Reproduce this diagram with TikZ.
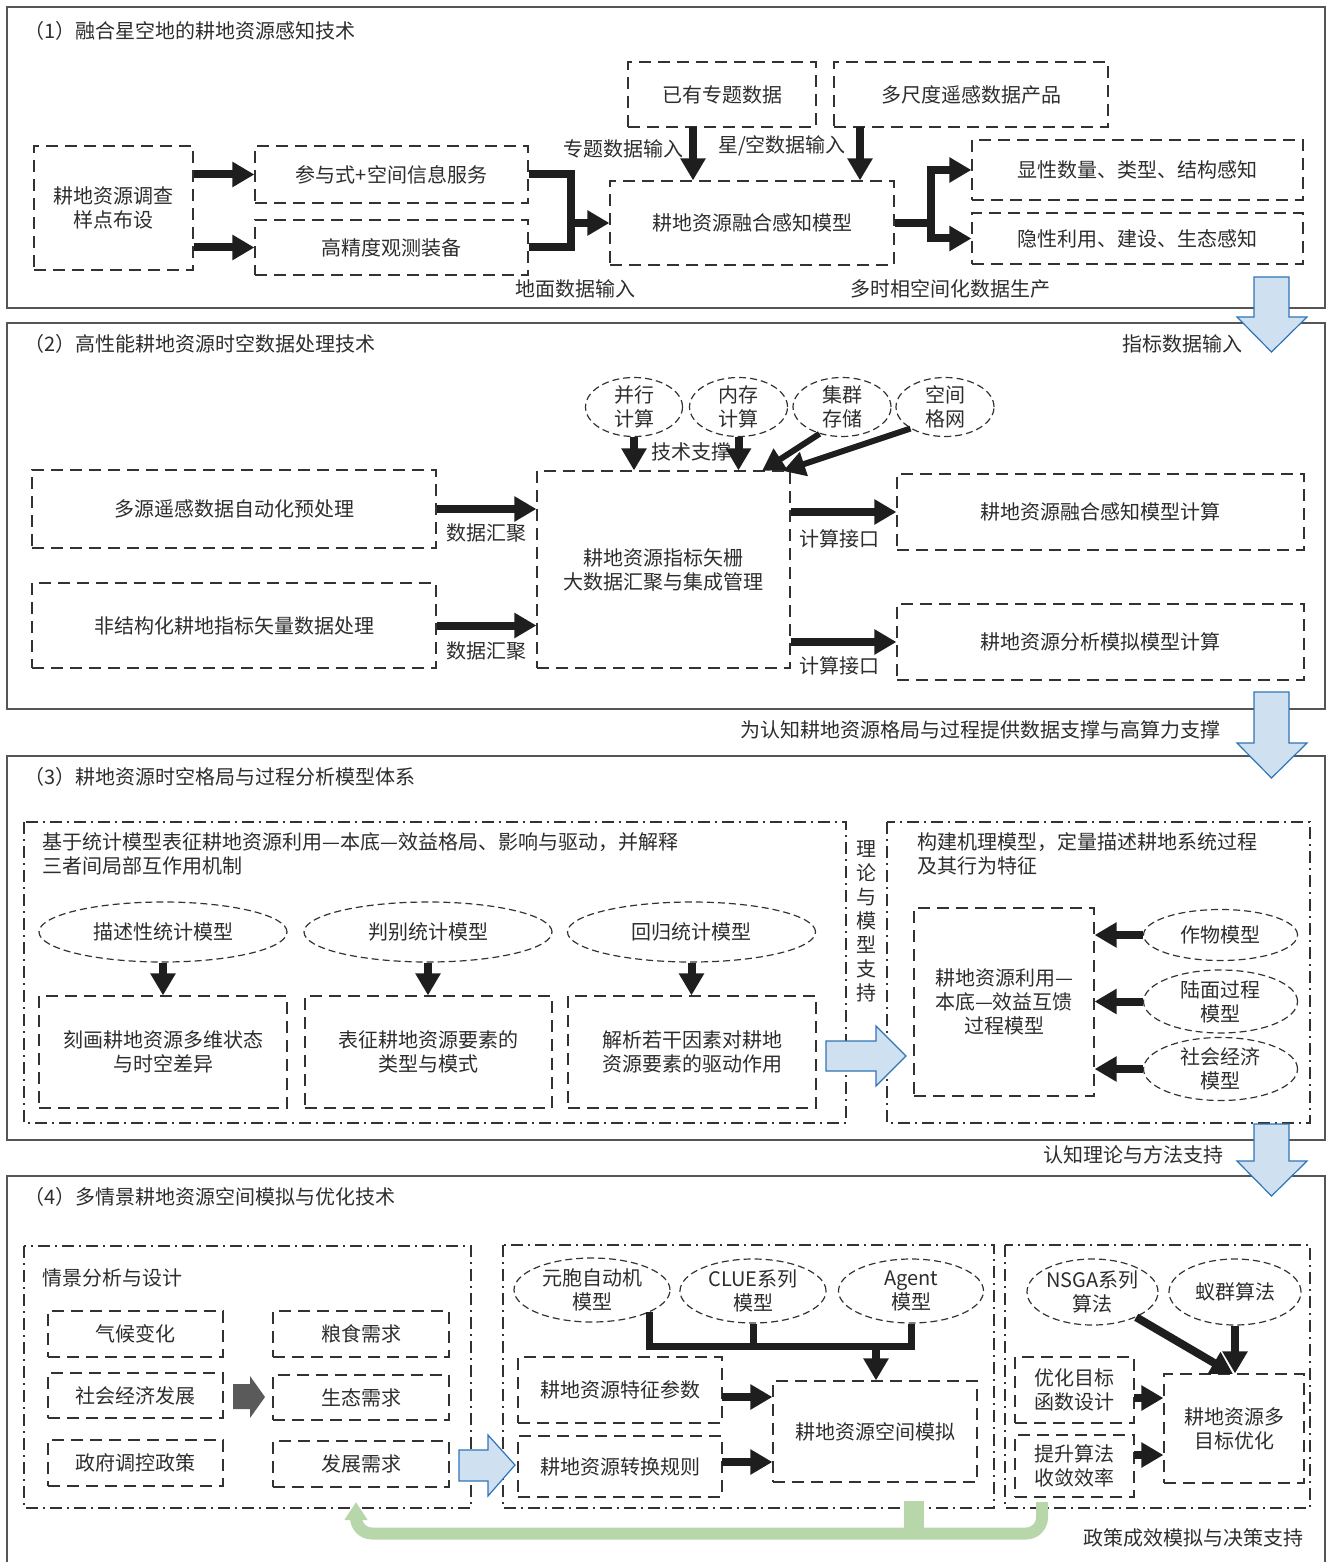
\documentclass[tikz,border=0pt]{standalone}
\usepackage{fontspec}
\setmainfont{Noto Sans CJK SC}
\usetikzlibrary{arrows.meta, shapes.geometric}
\definecolor{ink}{RGB}{30,30,30}
\definecolor{txt}{RGB}{45,45,45}
\definecolor{linegray}{RGB}{50,50,50}
\definecolor{framegray}{RGB}{85,85,85}
\definecolor{paleblue}{RGB}{207,224,240}
\definecolor{edgeblue}{RGB}{46,117,182}
\definecolor{fbgreen}{RGB}{183,214,170}
\definecolor{darkarrow}{RGB}{90,90,90}

\begin{document}
\begin{tikzpicture}[x=0.5pt, y=-0.5pt, font=\fontsize{10}{12}\selectfont,
    every node/.append style={text=txt},
    txtlabel/.style={inner sep=0pt},
    box/.style={draw=linegray, line width=0.6pt, dash pattern=on 6pt off 3.5pt, align=center, inner sep=0pt},
    oval/.style={ellipse, draw=linegray, line width=0.6pt, dash pattern=on 3.5pt off 2pt, align=center, inner sep=-1pt},
    grpbox/.style={draw=linegray, line width=0.6pt, dash pattern=on 6pt off 2.5pt on 1pt off 2.5pt},
    secframe/.style={draw=framegray, line width=0.7pt},
    fatarrow/.style={ink, line width=4pt, -{Triangle[length=11pt,width=12pt]}},
    fatline/.style={ink, line width=4pt},
    blockarrow/.style={fill=paleblue, draw=edgeblue, line width=0.6pt}]
    \useasboundingbox (0,0) rectangle (1330,1562);

    % Bloco (1)
    \draw[secframe] (7,7) rectangle (1325,308);
    \node[txtlabel, anchor=west] (t1) at (24,31) {（1）融合星空地的耕地资源感知技术};
    \node[box, minimum width=79.5pt, minimum height=62pt] (survey) at (113.5,208) {耕地资源调查\\样点布设};
    \node[box, minimum width=136.5pt, minimum height=28.5pt] (svc) at (391.5,174.5) {参与式+空间信息服务};
    \node[box, minimum width=136.5pt, minimum height=27.5pt] (obs) at (391.5,247.5) {高精度观测装备};
    \node[box, minimum width=94pt, minimum height=32.5pt] (thema) at (722,94.5) {已有专题数据};
    \node[box, minimum width=137pt, minimum height=32.5pt] (rsprod) at (971,94.5) {多尺度遥感数据产品};
    \node[box, minimum width=142pt, minimum height=42pt] (fuse) at (752,223) {耕地资源融合感知模型};
    \node[box, minimum width=165.5pt, minimum height=30pt] (vis) at (1137.5,170) {显性数量、类型、结构感知};
    \node[box, minimum width=165.5pt, minimum height=25.5pt] (hid) at (1137.5,238.5) {隐性利用、建设、生态感知};
    \node[txtlabel] (l1) at (623,149) {专题数据输入};
    \node[txtlabel] (l2) at (782,146) {星/空数据输入};
    \node[txtlabel] (l3) at (575,289) {地面数据输入};
    \node[txtlabel] (l4) at (950,289) {多时相空间化数据生产};

    % Setas do bloco (1)
    \coordinate (m1) at (571,223);
    \coordinate (m2) at (931,223);
    \coordinate (d1) at (693,127);
    \coordinate (d2) at (860,127);
    \draw[fatarrow] (survey.east |- svc.west) -- (svc.west);
    \draw[fatarrow] (survey.east |- obs.west) -- (obs.west);
    \draw[fatline] (svc.east) -| (m1) |- (obs.east);
    \draw[fatarrow] (m1) -- (fuse.west);
    \draw[fatarrow] (d1) -- (d1 |- fuse.north);
    \draw[fatarrow] (d2) -- (d2 |- fuse.north);
    \draw[fatline] (fuse.east) -- (m2);
    \draw[fatarrow] (m2) |- (vis.west);
    \draw[fatarrow] (m2) |- (hid.west);

    % Bloco (2)
    \draw[secframe] (7,323) rectangle (1325,709);
    \node[txtlabel, anchor=west] (t2) at (24,344) {（2）高性能耕地资源时空数据处理技术};
    \node[txtlabel] (l5) at (1182,344) {指标数据输入};
    \node[box, minimum width=202pt, minimum height=39pt] (rs) at (234,509) {多源遥感数据自动化预处理};
    \node[box, minimum width=202pt, minimum height=42.5pt] (vec) at (234,625.5) {非结构化耕地指标矢量数据处理};
    \node[box, minimum width=126.5pt, minimum height=98.5pt] (hub) at (663.5,569.5) {耕地资源指标矢栅\\大数据汇聚与集成管理};
    \node[oval, minimum width=48.5pt, minimum height=29.5pt] (e1) at (634,407) {并行\\计算};
    \node[oval, minimum width=49pt, minimum height=29.5pt] (e2) at (738.5,407) {内存\\计算};
    \node[oval, minimum width=49pt, minimum height=29.5pt] (e3) at (842,407) {集群\\存储};
    \node[oval, minimum width=49pt, minimum height=29.5pt] (e4) at (945,407) {空间\\格网};
    \node[box, minimum width=203.5pt, minimum height=38pt] (fc) at (1100.5,512) {耕地资源融合感知模型计算};
    \node[box, minimum width=203.5pt, minimum height=38pt] (an) at (1100.5,642) {耕地资源分析模拟模型计算};
    \node[txtlabel] (l6) at (486,533) {数据汇聚};
    \node[txtlabel] (l7) at (486,651) {数据汇聚};
    \node[txtlabel] (l8) at (839,539) {计算接口};
    \node[txtlabel] (l9) at (839,666) {计算接口};
    \node[txtlabel] (l10) at (691,452) {技术支撑};
    \node[txtlabel] (l11) at (980,730) {为认知耕地资源格局与过程提供数据支撑与高算力支撑};

    % Setas do bloco (2)
    \coordinate (h3) at (762,471);
    \coordinate (h4) at (783,471);
    \draw[fatarrow] (rs.east) -- (rs.east -| hub.west);
    \draw[fatarrow] (vec.east) -- (vec.east -| hub.west);
    \draw[fatarrow] (e1.south) -- (e1.south |- hub.north);
    \draw[fatarrow] (e2.south) -- (e2.south |- hub.north);
    \draw[fatarrow, line width=3pt] (e3.230) -- (h3);
    \draw[fatarrow, line width=3pt] (e4.212) -- (h4);
    \draw[fatarrow] (hub.east |- fc.west) -- (fc.west);
    \draw[fatarrow] (hub.east |- an.west) -- (an.west);

    % Bloco (3)
    \draw[secframe] (7,756) rectangle (1325,1140);
    \node[txtlabel, anchor=west] (t3) at (24,777) {（3）耕地资源时空格局与过程分析模型体系};
    \draw[grpbox] (24,822) rectangle (846,1123);
    \draw[grpbox] (887,822) rectangle (1310,1123);
    \node[txtlabel, anchor=west, align=left] (g1) at (42,854) {基于统计模型表征耕地资源利用—本底—效益格局、影响与驱动，并解释\\三者间局部互作用机制};
    \node[oval, minimum width=124pt, minimum height=30pt] (s1) at (163,932) {描述性统计模型};
    \node[oval, minimum width=124pt, minimum height=30pt] (s2) at (428,932) {判别统计模型};
    \node[oval, minimum width=124pt, minimum height=30pt] (s3) at (691.5,932) {回归统计模型};
    \node[box, minimum width=124pt, minimum height=56pt] (b1) at (163,1052) {刻画耕地资源多维状态\\与时空差异};
    \node[box, minimum width=123.5pt, minimum height=56pt] (b2) at (428.5,1052) {表征耕地资源要素的\\类型与模式};
    \node[box, minimum width=124pt, minimum height=56pt] (b3) at (692,1052) {解析若干因素对耕地\\资源要素的驱动作用};
    \node[txtlabel, align=center] (vt) at (866,921.5) {理\\论\\与\\模\\型\\支\\持};
    \node[txtlabel, anchor=west, align=left] (g2) at (917,854) {构建机理模型，定量描述耕地系统过程\\及其行为特征};
    \node[box, minimum width=90pt, minimum height=94pt] (proc) at (1004,1002) {耕地资源利用—\\本底—效益互馈\\过程模型};
    \node[oval, minimum width=77pt, minimum height=25.5pt] (k1) at (1220.5,935) {作物模型};
    \node[oval, minimum width=77pt, minimum height=31.5pt] (k2) at (1220.5,1001.5) {陆面过程\\模型};
    \node[oval, minimum width=77pt, minimum height=31.5pt] (k3) at (1220.5,1069) {社会经济\\模型};

    % Setas do bloco (3)
    \draw[fatarrow] (s1.south) -- (s1.south |- b1.north);
    \draw[fatarrow] (s2.south) -- (s2.south |- b2.north);
    \draw[fatarrow] (s3.south) -- (s3.south |- b3.north);
    \draw[fatarrow] (k1.west) -- (k1.west -| proc.east);
    \draw[fatarrow] (k2.west) -- (k2.west -| proc.east);
    \draw[fatarrow] (k3.west) -- (k3.west -| proc.east);
    \node[txtlabel] (l12) at (1133,1155) {认知理论与方法支持};

    % Bloco (4)
    \draw[secframe] (7,1566) -- (7,1176) -- (1325,1176) -- (1325,1566);
    \node[txtlabel, anchor=west] (t4) at (24,1197) {（4）多情景耕地资源空间模拟与优化技术};
    \draw[grpbox] (24,1246) rectangle (471,1508);
    \draw[grpbox] (503,1245) rectangle (994,1508);
    \draw[grpbox] (1005,1245) rectangle (1310,1508);
    \node[txtlabel, anchor=west] (g3) at (42,1278) {情景分析与设计};
    \node[box, minimum width=87.5pt, minimum height=23pt] (q1) at (135.5,1334) {气候变化};
    \node[box, minimum width=87.5pt, minimum height=22.5pt] (q2) at (135.5,1395.5) {社会经济发展};
    \node[box, minimum width=87.5pt, minimum height=23pt] (q3) at (135.5,1463) {政府调控政策};
    \node[box, minimum width=88pt, minimum height=23pt] (r1) at (361,1334) {粮食需求};
    \node[box, minimum width=88pt, minimum height=22.5pt] (r2) at (361,1397.5) {生态需求};
    \node[box, minimum width=88pt, minimum height=23pt] (r3) at (361,1464) {发展需求};
    \node[oval, minimum width=78pt, minimum height=32pt] (c1) at (592,1290) {元胞自动机\\模型};
    \node[oval, minimum width=73pt, minimum height=32pt] (c2) at (753,1291) {CLUE系列\\模型};
    \node[oval, minimum width=72.5pt, minimum height=32pt] (c3) at (911,1291) {Agent\\模型};
    \node[box, minimum width=102pt, minimum height=33pt] (p1) at (620,1390) {耕地资源特征参数};
    \node[box, minimum width=102pt, minimum height=30.5pt] (p2) at (620,1466.5) {耕地资源转换规则};
    \node[box, minimum width=102pt, minimum height=50.5pt] (sim) at (875,1431.5) {耕地资源空间模拟};
    \node[oval, minimum width=65.5pt, minimum height=33pt] (n1) at (1092.5,1292) {NSGA系列\\算法};
    \node[oval, minimum width=66pt, minimum height=33pt] (n2) at (1235,1292) {蚁群算法};
    \node[box, minimum width=59.5pt, minimum height=33pt] (o1) at (1074.5,1390) {优化目标\\函数设计};
    \node[box, minimum width=59.5pt, minimum height=31pt] (o2) at (1074.5,1466) {提升算法\\收敛效率};
    \node[box, minimum width=70pt, minimum height=54.5pt] (opt) at (1234,1428.5) {耕地资源多\\目标优化};
    \node[txtlabel] (l13) at (1193,1538) {政策成效模拟与决策支持};

    % Setas do bloco (4)
    \coordinate (jb) at (876,1346);
    \coordinate (a1) at (722,1397);
    \coordinate (a2) at (722,1462);
    \coordinate (a3) at (1134,1398);
    \coordinate (a4) at (1134,1455);
    \coordinate (nt) at (1233,1374);
    \draw[fatline, line width=3.5pt] (c1.-21) |- (c3.south |- jb) -- (c3.south);
    \draw[fatline, line width=3.5pt] (c2.south) -- (c2.south |- jb);
    \draw[fatarrow] (jb) -- (jb |- sim.north);
    \draw[fatarrow] (a1) -- (a1 -| sim.west);
    \draw[fatarrow] (a2) -- (a2 -| sim.west);
    \draw[fatarrow] (a3) -- (a3 -| opt.west);
    \draw[fatarrow] (a4) -- (a4 -| opt.west);
    \draw[fatarrow] (n1.-30) -- (nt);
    \draw[fatarrow] (n2.south) -- (n2.south |- opt.north);
    \fill[darkarrow] (233,1384) -- (250,1384) -- (250,1376) -- (265,1397) -- (250,1418) -- (250,1409) -- (233,1409) -- cycle;

    % Retorno (verde)
    \coordinate (fbA) at (1042,1502);
    \coordinate (fbL) at (356,1533.5);
    \coordinate (fbB) at (356,1502);
    \coordinate (fbC) at (914,1501);
    \draw[fbgreen, line width=10pt] (fbC) -- (fbC |- fbL);
    \draw[fbgreen, line width=6pt, rounded corners=8pt, -{Triangle[length=9pt,width=11pt]}] (fbA) |- (fbL) -- (fbB);

    % Setas largas entre blocos
    \draw[blockarrow] (1254,277) -- (1289,277) -- (1289,317) -- (1307,317) -- (1271.5,352) -- (1237,317) -- (1254,317) -- cycle;
    \draw[blockarrow] (1254,692) -- (1289,692) -- (1289,743) -- (1307,743) -- (1271.5,778) -- (1237,743) -- (1254,743) -- cycle;
    \draw[blockarrow] (1254,1124) -- (1289,1124) -- (1289,1161) -- (1307,1161) -- (1271.5,1196) -- (1237,1161) -- (1254,1161) -- cycle;
    \draw[blockarrow] (826,1041) -- (876,1041) -- (876,1026) -- (906,1056) -- (876,1086) -- (876,1071) -- (826,1071) -- cycle;
    \draw[blockarrow] (459,1450) -- (488,1450) -- (488,1435) -- (515,1465) -- (488,1496) -- (488,1481) -- (459,1481) -- cycle;
\end{tikzpicture}
\end{document}
